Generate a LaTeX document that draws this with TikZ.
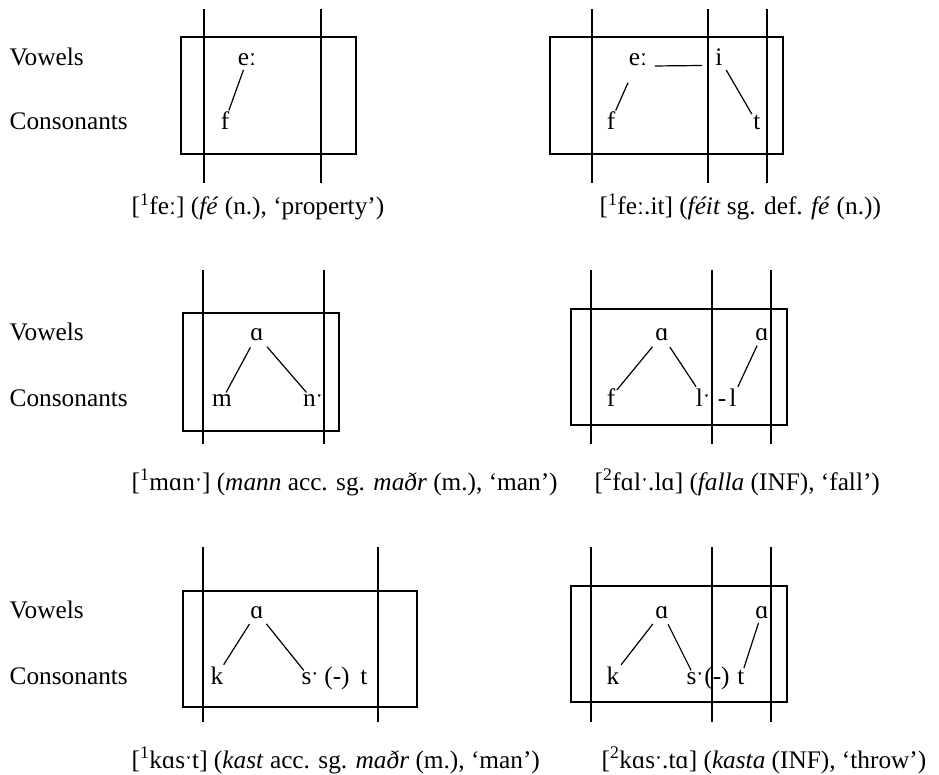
\documentclass[tikz,border=0pt]{standalone}
\usepackage{fontspec}
\setmainfont{Liberation Serif}
\begin{document}
\begin{tikzpicture}[x=1pt,y=-1pt,
  every node/.style={font=\fontsize{25.3}{30}\selectfont, inner sep=1.5pt, anchor=base},
  lbl/.style={anchor=base west},
  captxt/.style={anchor=base west},
  lnk/.style={line width=1.2pt, shorten <=2pt},
  frame/.style={line width=1.3pt},
  bar/.style={line width=1.3pt}]
\useasboundingbox (0,0) rectangle (939,775);

% ---------- Row 1 ----------
\node[lbl] (v1) at (8,66) {Vowels};
\node[lbl] (c1) at (8,130) {Consonants};
% Panel A
\draw[frame] (181,37) rectangle (356,154);
\draw[bar] (204,9) -- (204,183);
\draw[bar] (321,9) -- (321,183);
\node (eA) at (247,66) {eː};
\node (fA) at (225,130) {f};
\draw[lnk] (eA) -- (fA);
\node[captxt] (capA) at (130,215) {[\textsuperscript{1}feː] (\textit{fé} (n.), ‘property’)};
% Panel B
\draw[frame] (550,37) rectangle (783,154);
\draw[bar] (592,9) -- (592,183);
\draw[bar] (708,9) -- (708,183);
\draw[bar] (767,9) -- (767,183);
\node (eB) at (638,66) {eː};
\node (iB) at (719,66) {i};
\node (fB) at (611,130) {f};
\node (tB) at (757,130) {t};
\draw[lnk] (eB.base east) ++(4,0) coordinate (hB1) -- (702,65.5) coordinate (hB2);
\draw[lnk, shorten <=16pt] (eB) -- (fB);
\draw[lnk, shorten <=4pt] (iB) -- (tB);
\node[captxt] (capB) at (598,215) {[\textsuperscript{1}feː.it] (\textit{féit} sg. def. \textit{fé} (n.))};

% ---------- Row 2 ----------
\node[lbl] (v2) at (8,341) {Vowels};
\node[lbl] (c2) at (8,406) {Consonants};
% Panel C
\draw[frame] (183,313) rectangle (339,431);
\draw[bar] (203,270) -- (203,444);
\draw[bar] (324,270) -- (324,444);
\node (aC) at (257,341) {ɑ};
\node (mC) at (222,406) {m};
\node (nC) at (313,406) {nˑ};
\draw[lnk, shorten <=5pt] (aC) -- (mC);
\draw[lnk, shorten <=5pt] (aC) -- (nC);
\node[captxt] (capC) at (130,490) {[\textsuperscript{1}mɑnˑ] (\textit{mann} acc. sg. \textit{maðr} (m.), ‘man’)};
% Panel D
\draw[frame] (571,309) rectangle (787,425);
\draw[bar] (591,270) -- (591,444);
\draw[bar] (712,270) -- (712,444);
\draw[bar] (771,270) -- (771,444);
\node (a1D) at (662,341) {ɑ};
\node (a2D) at (762,341) {ɑ};
\node (fD) at (611,406) {f};
\node (lD) at (703,406) {lˑ};
\node (dD) at (722,406) {-};
\node (l2D) at (733,406) {l};
\draw[lnk, shorten <=5pt] (a1D) -- (fD);
\draw[lnk, shorten <=5pt] (a1D) -- (lD);
\draw[lnk, shorten <=3pt] (a2D) -- (l2D);
\node[captxt] (capD) at (593,490) {[\textsuperscript{2}fɑlˑ.lɑ] (\textit{falla} (INF), ‘fall’)};

% ---------- Row 3 ----------
\node[lbl] (v3) at (8,618) {Vowels};
\node[lbl] (c3) at (8,684) {Consonants};
% Panel E
\draw[frame] (183,591) rectangle (417,707);
\draw[bar] (203,547) -- (203,722);
\draw[bar] (378,547) -- (378,722);
\node (aE) at (257,618) {ɑ};
\node (kE) at (217,684) {k};
\node (sE) at (310,684) {sˑ};
\node (pE) at (337,684) {(-)};
\node (tE) at (364,684) {t};
\draw[lnk, shorten <=5pt] (aE) -- (kE);
\draw[lnk, shorten <=5pt] (aE) -- (sE);
\node[captxt] (capE) at (130,768) {[\textsuperscript{1}kɑsˑt] (\textit{kast} acc. sg. \textit{maðr} (m.), ‘man’)};
% Panel F
\draw[frame] (571,586) rectangle (787,702);
\draw[bar] (591,547) -- (591,722);
\draw[bar] (712,547) -- (712,722);
\draw[bar] (771,547) -- (771,722);
\node (a1F) at (662,618) {ɑ};
\node (a2F) at (762,618) {ɑ};
\node (kF) at (613,684) {k};
\node (sF) at (695,684) {sˑ};
\node (pF) at (717,684) {(-)};
\node (tF) at (741,684) {t};
\draw[lnk, shorten <=5pt] (a1F) -- (kF);
\draw[lnk, shorten <=5pt] (a1F) -- (sF);
\draw[lnk, shorten <=3pt] (a2F) -- (tF);
\node[captxt] (capF) at (600,768) {[\textsuperscript{2}kɑsˑ.tɑ] (\textit{kasta} (INF), ‘throw’)};
\end{tikzpicture}
\end{document}
